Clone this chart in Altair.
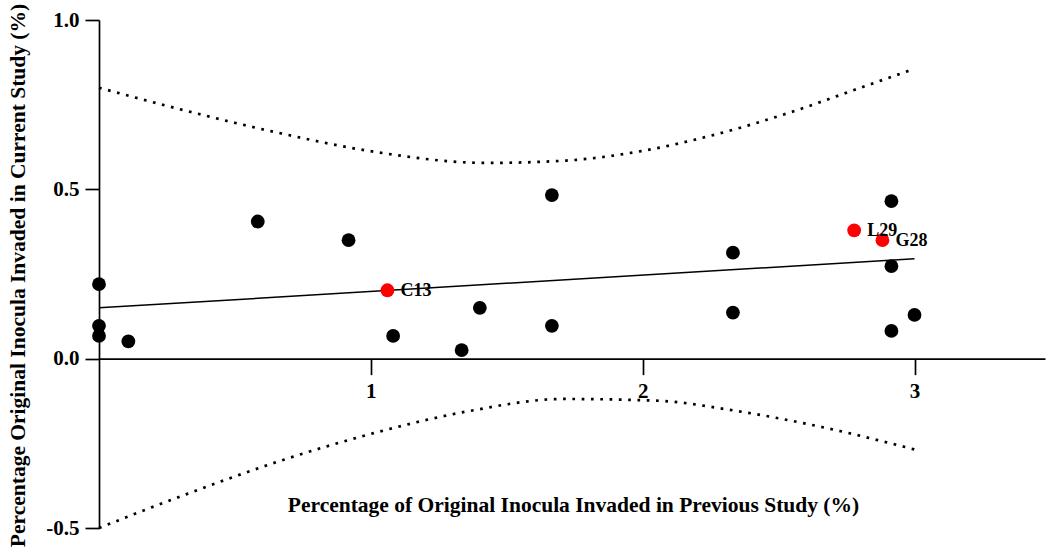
import altair as alt
import pandas as pd

# Scatter points (black)
black_x = [0.0, 0.0, 0.0, 0.108, 0.584, 0.918, 1.082, 1.334, 1.401, 1.666, 1.666,
           2.332, 2.332, 2.915, 2.915, 2.915, 3.0]
black_y = [0.220, 0.097, 0.067, 0.051, 0.405, 0.350, 0.067, 0.025, 0.150, 0.097, 0.483,
           0.313, 0.136, 0.465, 0.273, 0.082, 0.129]

# Highlighted points (red) with labels
red_x = [1.061, 2.778, 2.882]
red_y = [0.202, 0.379, 0.350]
red_labels = ["C13", "L29", "G28"]

# Regression line endpoints
fit_x = [0.0, 3.0]
fit_y = [0.150, 0.295]

# Dotted band curves
upper_x = [0.0, 0.31, 0.654, 0.997, 1.427, 1.72, 1.995, 2.273, 2.546, 2.78, 3.0]
upper_y = [0.800, 0.734, 0.668, 0.613, 0.578, 0.585, 0.613, 0.663, 0.728, 0.794, 0.856]
lower_x = [0.0, 0.322, 0.666, 1.01, 1.353, 1.709, 2.05, 2.335, 2.654, 3.0]
lower_y = [-0.500, -0.400, -0.302, -0.220, -0.156, -0.119, -0.124, -0.153, -0.201, -0.268]

x_ticks = [1, 2, 3]
y_ticks = [-0.5, 0.0, 0.5, 1.0]
x_title = "Percentage of Original Inocula Invaded in Previous Study (%)"
y_title = "Percentage Original Inocula Invaded in Current Study (%)"

W, H = 946, 508
X_DOMAIN = [0, 3.48]
Y_DOMAIN = [-0.5, 1.0]
FONT = "Liberation Serif"

zero_px = H * (Y_DOMAIN[1] - 0) / (Y_DOMAIN[1] - Y_DOMAIN[0])

x_axis = alt.Axis(
    values=x_ticks, format="d", offset=-(H - zero_px), tickSize=16,
    labelPadding=6, title=x_title, titleX=474, titleY=147,
    titleAlign="center", titleBaseline="middle",
)
y_axis = alt.Axis(
    values=y_ticks, tickSize=14, labelPadding=6,
    labelExpr="datum.value < 0 ? '-' + format(-datum.value, '.1f') : format(datum.value, '.1f')",
    title=y_title, titleX=-81, titleY=H / 2 + 1, titleAngle=270,
    titleAlign="center", titleBaseline="middle",
)


def xe(field="x"):
    return alt.X(f"{field}:Q", scale=alt.Scale(domain=X_DOMAIN, nice=False, zero=False), axis=x_axis)


def ye(field="y"):
    return alt.Y(f"{field}:Q", scale=alt.Scale(domain=Y_DOMAIN, nice=False, zero=False), axis=y_axis)


df_black = pd.DataFrame({"x": black_x, "y": black_y})
df_red = pd.DataFrame({"x": red_x, "y": red_y, "label": red_labels})
df_fit = pd.DataFrame({"x": fit_x, "y": fit_y})
df_up = pd.DataFrame({"x": upper_x, "y": upper_y})
df_lo = pd.DataFrame({"x": lower_x, "y": lower_y})

dot_style = dict(color="black", strokeWidth=2.7, strokeDash=[2.7, 6.6], interpolate="monotone")

upper = alt.Chart(df_up).mark_line(**dot_style).encode(x=xe(), y=ye())
lower = alt.Chart(df_lo).mark_line(**dot_style).encode(x=xe(), y=ye())
fit = alt.Chart(df_fit).mark_line(color="black", strokeWidth=1.5).encode(x=xe(), y=ye())
pts = alt.Chart(df_black).mark_circle(color="black", size=190, opacity=1).encode(x=xe(), y=ye())
red = alt.Chart(df_red).mark_circle(color="#ff0000", size=190, opacity=1).encode(x=xe(), y=ye())
labels = alt.Chart(df_red).mark_text(
    align="left", baseline="middle", dx=13, dy=1, font=FONT, fontSize=18,
    fontWeight="bold", color="black",
).encode(x=xe(), y=ye(), text="label:N")

chart = alt.layer(upper, lower, fit, pts, red, labels).properties(
    width=W, height=H,
    autosize=alt.AutoSizeParams(type="none"),
    padding={"left": 99, "top": 20, "right": 2, "bottom": 19},
).configure_view(stroke=None).configure_axis(
    grid=False, domainColor="black", domainWidth=1.7, tickColor="black", tickWidth=1.7,
    labelFont=FONT, labelFontSize=21, labelFontWeight="bold", labelColor="black",
    titleFont=FONT, titleFontSize=21.5, titleFontWeight="bold", titleColor="black",
)

chart.save("out.html", embed_options={"renderer": "svg", "actions": False})
